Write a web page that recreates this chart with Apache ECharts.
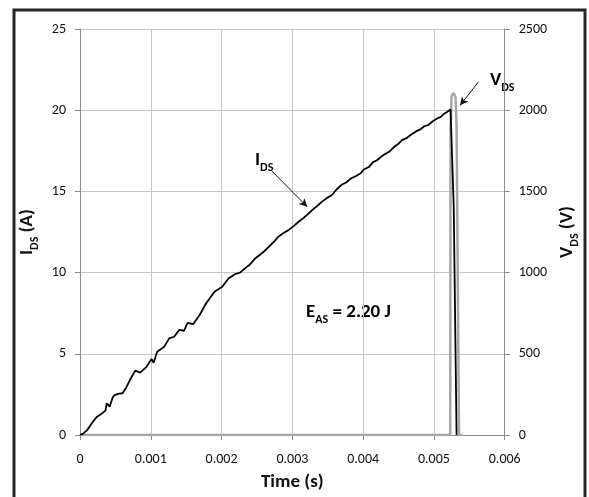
<!DOCTYPE html>
<html><head><meta charset="utf-8">
<script src="https://cdn.jsdelivr.net/npm/echarts@6/dist/echarts.min.js"></script>
<style>html,body{margin:0;padding:0;background:#fff}#c{width:589px;height:497px}</style>
</head><body><div id="c"></div>
<script>
// Time axis (s)
const xTicks = [0, 0.001, 0.002, 0.003, 0.004, 0.005, 0.006];
const iTicks = [0, 5, 10, 15, 20, 25];
const vTicks = [0, 500, 1000, 1500, 2000, 2500];

// I_DS (A)
const tI = [0, 0.00005, 0.0001, 0.00018, 0.00024, 0.00031, 0.00036, 0.000377, 0.00042, 0.00046, 0.00049, 0.00055, 0.0006, 0.00065, 0.00072, 0.00078, 0.00085, 0.00094, 0.00101, 0.00104, 0.00109, 0.00119, 0.00126, 0.00133, 0.0014, 0.00147, 0.00152, 0.0016, 0.00169, 0.00178, 0.0019, 0.00201, 0.0021, 0.00219, 0.00226, 0.00233, 0.0024, 0.00247, 0.0026, 0.00267, 0.00274, 0.0028, 0.00287, 0.00294, 0.00301, 0.00308, 0.00315, 0.00322, 0.00328, 0.00335, 0.00342, 0.00349, 0.00356, 0.00362, 0.00369, 0.00376, 0.00383, 0.0039, 0.00396, 0.00401, 0.00408, 0.00414, 0.00419, 0.00426, 0.00431, 0.00437, 0.00444, 0.00449, 0.00455, 0.00462, 0.00468, 0.00474, 0.0048, 0.00486, 0.00492, 0.00498, 0.00505, 0.0051, 0.00515, 0.00519, 0.005235, 0.00528, 0.00532];
const iDS = [0, 0.1, 0.3, 0.8, 1.13, 1.33, 1.5, 1.95, 1.75, 2.3, 2.46, 2.55, 2.57, 2.9, 3.5, 3.96, 3.84, 4.2, 4.68, 4.45, 5.13, 5.44, 5.95, 6.05, 6.47, 6.42, 6.91, 6.83, 7.39, 8.1, 8.82, 9.13, 9.65, 9.9, 10.0, 10.26, 10.5, 10.85, 11.3, 11.6, 11.9, 12.2, 12.42, 12.6, 12.83, 13.1, 13.34, 13.6, 13.85, 14.1, 14.37, 14.6, 14.78, 15.1, 15.39, 15.55, 15.8, 15.95, 16.1, 16.35, 16.5, 16.8, 16.9, 17.15, 17.3, 17.45, 17.75, 17.9, 18.16, 18.3, 18.5, 18.68, 18.8, 19.0, 19.09, 19.3, 19.5, 19.6, 19.8, 19.9, 20.05, 14, 0];

// V_DS (V)
const tV = [0, 0.00523, 0.005235, 0.00525, 0.00528, 0.005305, 0.00532, 0.00535, 0.005355, 0.0054];
const vDS = [0, 0, 1900, 2090, 2105, 2080, 1900, 250, 0, 0];

const FONT = 'Carlito, Lato, sans-serif';
const chart = echarts.init(document.getElementById('c'), null, {renderer: 'canvas'});
const pairs = (xs, ys) => xs.map((x, i) => [x, ys[i]]);
const tickStyle = {show: true, inside: false, length: 5, lineStyle: {color: '#8c8c8c', width: 1}};
const lineAx = {show: true, lineStyle: {color: '#8c8c8c', width: 1}};
const labelStyle = {color: '#111', fontFamily: FONT, fontSize: 14};
const rich = {
  b: {fontFamily: FONT, fontWeight: 'bold', fontSize: 19, color: '#111', lineHeight: 24, verticalAlign: 'bottom'},
  s: {fontFamily: FONT, fontWeight: 'bold', fontSize: 12, color: '#111', lineHeight: 24, verticalAlign: 'bottom', padding: [0, 0, -4, 0]}
};

chart.setOption({
  animation: false,
  backgroundColor: '#fff',
  grid: {left: 80, right: 69, top: 29, bottom: 62},
  xAxis: {
    type: 'value', min: xTicks[0], max: xTicks[xTicks.length - 1], interval: 0.001,
    name: 'Time (s)', nameLocation: 'middle', nameGap: 38,
    nameTextStyle: {fontFamily: FONT, fontWeight: 'bold', fontSize: 19, color: '#111'},
    axisLine: lineAx, axisTick: tickStyle,
    axisLabel: Object.assign({margin: 17, formatter: v => String(+v.toFixed(3))}, labelStyle),
    splitLine: {show: true, lineStyle: {color: '#c8c8c8', width: 1}}
  },
  yAxis: [{
    type: 'value', min: iTicks[0], max: iTicks[iTicks.length - 1], interval: 5,
    name: '{b|I}{s|DS}{b| (A)}', nameLocation: 'middle', nameGap: 36, nameRotate: 90,
    nameTextStyle: {rich: rich},
    axisLine: lineAx, axisTick: tickStyle,
    axisLabel: Object.assign({margin: 14, formatter: v => String(v)}, labelStyle),
    splitLine: {show: true, lineStyle: {color: '#c8c8c8', width: 1}}
  }, {
    type: 'value', min: vTicks[0], max: vTicks[vTicks.length - 1], interval: 500,
    name: '{b|V}{s|DS}{b| (V)}', nameLocation: 'middle', nameGap: 22, nameRotate: 90,
    nameTextStyle: {rich: rich},
    axisLine: lineAx, axisTick: tickStyle,
    axisLabel: Object.assign({margin: 14, formatter: v => String(v)}, labelStyle),
    splitLine: {show: false}
  }],
  series: [{
    name: 'VDS', type: 'line', yAxisIndex: 1, showSymbol: false, symbol: 'none',
    data: pairs(tV, vDS), lineStyle: {color: '#a6a6a6', width: 2.5}, z: 2,
    markLine: {
      silent: true, symbol: ['none', 'arrow'], symbolSize: [6, 8],
      lineStyle: {color: '#111', width: 1, type: 'solid'}, label: {show: false},
      data: [[{coord: [0.00563, 2175]}, {coord: [0.00537, 2030]}]]
    }
  }, {
    name: 'IDS', type: 'line', yAxisIndex: 0, showSymbol: false, symbol: 'none',
    data: pairs(tI, iDS), lineStyle: {color: '#000', width: 1.8}, z: 3,
    markLine: {
      silent: true, symbol: ['none', 'arrow'], symbolSize: [6, 8],
      lineStyle: {color: '#111', width: 1, type: 'solid'}, label: {show: false},
      data: [[{coord: [0.0027, 16.3]}, {coord: [0.00321, 14.05]}]]
    }
  }],
  graphic: [
    {type: 'rect', shape: {x: 14, y: 10, width: 571, height: 500}, style: {fill: 'none', stroke: '#262626', lineWidth: 3}, silent: true},
    {type: 'text', left: 255, top: 151, style: {text: '{b|I}{s|DS}', rich: rich}},
    {type: 'text', left: 490, top: 71, style: {text: '{b|V}{s|DS}', rich: rich}},
    {type: 'text', left: 306, top: 303, style: {text: '{b|E}{s|AS}{b| = 2.20 J}', rich: rich}}
  ]
});
</script></body></html>
